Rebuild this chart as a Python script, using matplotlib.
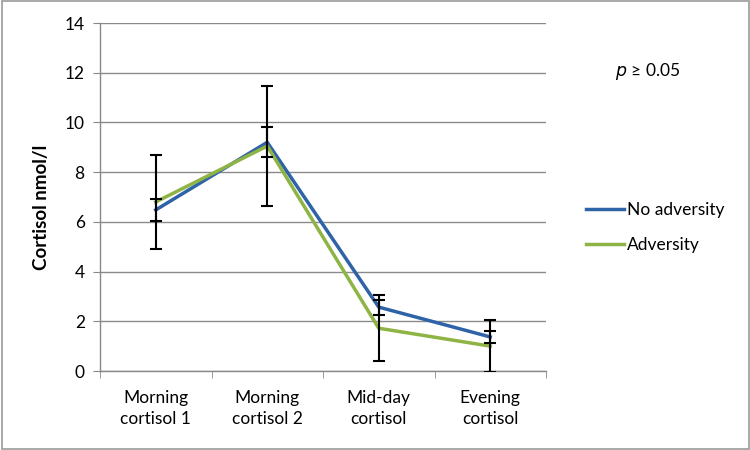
import matplotlib
matplotlib.use('Agg')
import matplotlib.pyplot as plt
import numpy as np

# Data
categories = ['Morning\ncortisol 1', 'Morning\ncortisol 2', 'Mid-day\ncortisol', 'Evening\ncortisol']
no_adversity = [6.48, 9.2, 2.57, 1.37]
no_adversity_err = [0.45, 0.6, 0.3, 0.25]
adversity = [6.8, 9.05, 1.72, 1.0]
adversity_err = [1.9, 2.4, 1.32, 1.05]

plt.rcParams['font.family'] = ['Lato', 'DejaVu Sans']

fig = plt.figure(figsize=(7.5, 4.5), dpi=100)
ax = fig.add_axes([100 / 750, 1 - 371 / 450, 446 / 750, 348 / 450])

# Gray chart border
fig.patches.append(plt.Rectangle((0.002, 0.003), 0.996, 0.994, transform=fig.transFigure,
                                 fill=False, edgecolor='#9a9a9a', linewidth=1.2))

x = np.arange(len(categories))
blue = '#2F63A8'
green = '#8DB444'

ax.plot(x, no_adversity, color=blue, linewidth=2.5, label='No adversity', zorder=3)
ax.plot(x, adversity, color=green, linewidth=2.5, label='Adversity', zorder=3)
ax.errorbar(x, adversity, yerr=adversity_err, fmt='none', ecolor='black',
            elinewidth=1.5, capsize=4, capthick=1.5, zorder=4)
ax.errorbar(x, no_adversity, yerr=no_adversity_err, fmt='none', ecolor='black',
            elinewidth=1.5, capsize=4, capthick=1.5, zorder=4)

ax.set_xlim(-0.5, len(categories) - 0.5)
ax.set_ylim(0, 14)
ax.set_yticks(np.arange(0, 15, 2))
ax.set_xticks(x)
ax.set_xticklabels(categories, fontsize=12.5, linespacing=1.35)
ax.set_xticks(np.arange(-0.5, len(categories), 1), minor=True)
ax.tick_params(axis='x', which='major', length=0, pad=14)
ax.tick_params(axis='x', which='minor', length=5, color='#888888')
ax.tick_params(axis='y', length=5, color='#888888', labelsize=12.5, pad=6)

ax.yaxis.grid(True, color='#8a8a8a', linewidth=1)
ax.set_axisbelow(True)
for s in ['top', 'right']:
    ax.spines[s].set_visible(False)
for s in ['left', 'bottom']:
    ax.spines[s].set_color('#888888')
    ax.spines[s].set_linewidth(1)

ax.set_ylabel('Cortisol nmol/l', fontsize=13.5, fontweight='bold')
ax.yaxis.set_label_coords(-0.132, 0.47)
ax.yaxis.label.set_va('center')

fig.text(648 / 750, 1 - 72 / 450, r'$\it{p}$ ≥ 0.05', fontsize=12.5, ha='center', va='center')

fig.legend(loc='upper left', bbox_to_anchor=(570 / 750, 1 - 186 / 450), frameon=False,
           fontsize=12.5, handlelength=2.2, handletextpad=0.2, labelspacing=1.1)

fig.savefig('out.png', dpi=100)
